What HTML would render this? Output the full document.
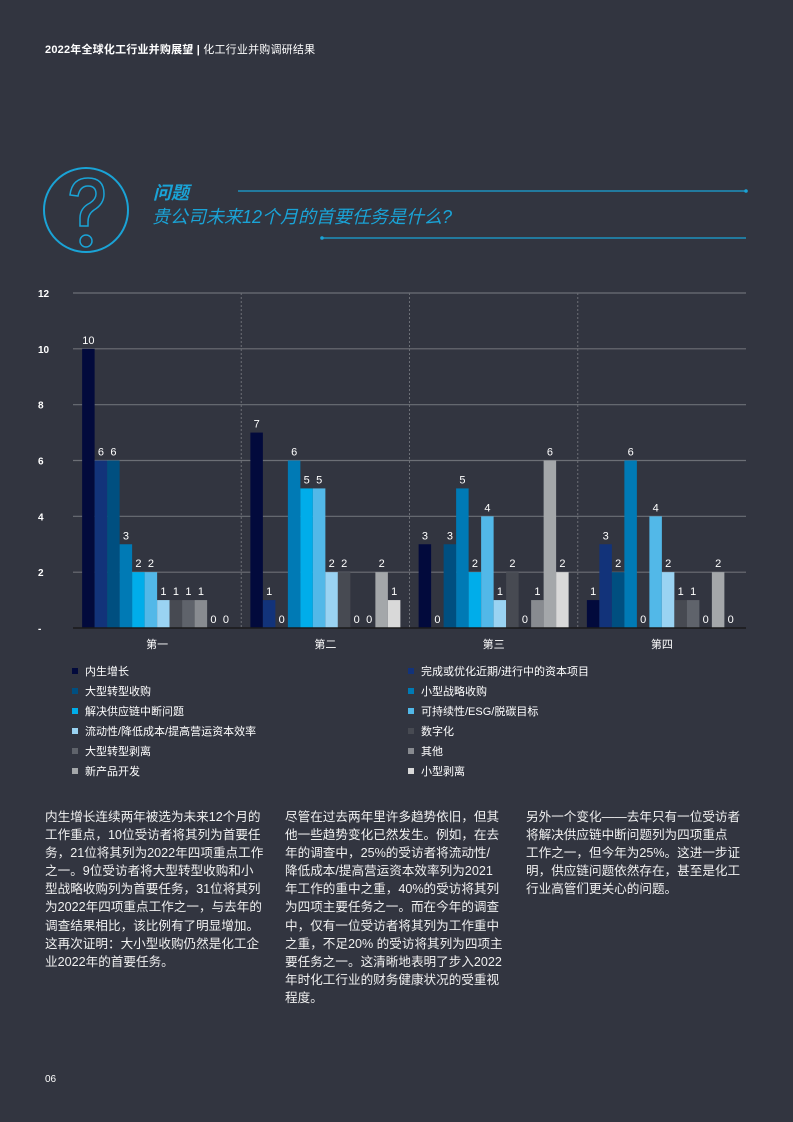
<!DOCTYPE html>
<html><head><meta charset="utf-8">
<style>
html,body{margin:0;padding:0}
body{width:793px;height:1122px;background:#323540;position:relative;overflow:hidden;font-family:"Liberation Sans","Noto Sans CJK SC",sans-serif;color:#fff}
.hdr{position:absolute;left:45px;top:41px;font-size:11px;font-weight:bold;letter-spacing:0.2px}
.hdr span{font-weight:normal}
.para{position:absolute;top:808px;font-size:12.6px;line-height:18.1px;color:#f0f0f0;white-space:nowrap}
.pn{position:absolute;left:45px;top:1074px;font-size:10px}
</style></head>
<body>
<div class="hdr">2022年全球化工行业并购展望 | <span>化工行业并购调研结果</span></div>

<svg width="793" height="270" style="position:absolute;left:0;top:160px">
 <circle cx="86" cy="50" r="42" fill="none" stroke="#1aa3d6" stroke-width="2"/>
 <path d="M70 35 Q72 18 88 18 Q104 18 104 34 Q104 44 94 50 Q88 54 88 62 L88 66 L80 66 L80 58 Q80 48 90 43 Q96 39 96 34 Q96 26 88 26 Q80 26 78 36 Z" fill="none" stroke="#1aa3d6" stroke-width="1.5"/>
 <circle cx="86" cy="81" r="6" fill="none" stroke="#1aa3d6" stroke-width="1.5"/>
 <text x="153" y="39" font-size="18" font-weight="bold" font-style="italic" fill="#1aa3d6" font-family="Liberation Sans,Noto Sans CJK SC,sans-serif">问题</text>
 <line x1="238" y1="31" x2="746" y2="31" stroke="#1aa3d6" stroke-width="1.2"/>
 <circle cx="746" cy="31" r="1.8" fill="#1aa3d6"/>
 <text x="152" y="63" font-size="18" font-style="italic" fill="#1aa3d6" font-family="Liberation Sans,Noto Sans CJK SC,sans-serif">贵公司未来12个月的首要任务是什么?</text>
 <line x1="322" y1="78" x2="746" y2="78" stroke="#1aa3d6" stroke-width="1.2"/>
 <circle cx="322" cy="78" r="1.8" fill="#1aa3d6"/>
</svg>

<svg id="chart" width="793" height="520" style="position:absolute;left:0;top:270px"></svg>

<div class="para" style="left:45px">内生增长连续两年被选为未来12个月的<br>工作重点，10位受访者将其列为首要任<br>务，21位将其列为2022年四项重点工作<br>之一。9位受访者将大型转型收购和小<br>型战略收购列为首要任务，31位将其列<br>为2022年四项重点工作之一，与去年的<br>调查结果相比，该比例有了明显增加。<br>这再次证明：大小型收购仍然是化工企<br>业2022年的首要任务。</div>
<div class="para" style="left:285px">尽管在过去两年里许多趋势依旧，但其<br>他一些趋势变化已然发生。例如，在去<br>年的调查中，25%的受访者将流动性/<br>降低成本/提高营运资本效率列为2021<br>年工作的重中之重，40%的受访将其列<br>为四项主要任务之一。而在今年的调查<br>中，仅有一位受访者将其列为工作重中<br>之重，不足20% 的受访将其列为四项主<br>要任务之一。这清晰地表明了步入2022<br>年时化工行业的财务健康状况的受重视<br>程度。</div>
<div class="para" style="left:526px">另外一个变化——去年只有一位受访者<br>将解决供应链中断问题列为四项重点<br>工作之一，但今年为25%。这进一步证<br>明，供应链问题依然存在，甚至是化工<br>行业高管们更关心的问题。</div>
<div class="pn">06</div>

<script>
const groups = ["第一","第二","第三","第四"];
const seriesNames = ["内生增长","完成或优化近期/进行中的资本项目","大型转型收购","小型战略收购","解决供应链中断问题","可持续性/ESG/脱碳目标","流动性/降低成本/提高营运资本效率","数字化","大型转型剥离","其他","新产品开发","小型剥离"];
const seriesColors = ["#020a3c","#12337a","#004f80","#007ab5","#00adea","#52b8e8","#9ad3f2","#474a52","#5f636b","#888b90","#a4a7aa","#d9d9d9"];
const values = [
 [10,6,6,3,2,2,1,1,1,1,0,0],
 [7,1,0,6,5,5,2,2,0,0,2,1],
 [3,0,3,5,2,4,1,2,0,1,6,2],
 [1,3,2,6,0,4,2,1,1,0,2,0]
];
const yTicks = [0,2,4,6,8,10,12];
const yTickLabels = ["-","2","4","6","8","10","12"];

const NS="http://www.w3.org/2000/svg";
const svg=document.getElementById('chart');
const X0=73,X1=746,Y0=358,Ytop=23,YMAX=12;
const y=v=>Y0-(Y0-Ytop)*v/YMAX;
const gw=(X1-X0)/groups.length;
const gx=i=>X0+gw*i;
const bw=12.5, pad=(gw-bw*12)/2;
const bx=(g,s)=>gx(g)+pad+bw*s;
function mk(t,a){const e=document.createElementNS(NS,t);for(const k in a)e.setAttribute(k,a[k]);svg.appendChild(e);return e;}

yTicks.forEach((t,i)=>{
 if(t>0){const l=mk('line',{x1:X0,x2:X1,y1:y(t),y2:y(t),stroke:'#6c6f76','stroke-width':1.2});
 
 }
 const tx=mk('text',{x:38,y:y(t)+4,'font-size':10,'font-weight':'bold',fill:'#fff'});
 tx.textContent=yTickLabels[i];
 
 
});
for(let g=1;g<groups.length;g++){
 const l=mk('line',{x1:gx(g),x2:gx(g),y1:Ytop,y2:Y0,stroke:'#6c6f76','stroke-dasharray':'2,2'});
 
 
}
values.forEach((row,g)=>{
 row.forEach((v,s)=>{
  const r=mk('rect',{x:bx(g,s),y:y(v),width:bw,height:Y0-y(v),fill:seriesColors[s]});
  
  
  const t=mk('text',{x:bx(g,s)+bw/2,y:y(v)-5,'font-size':11,fill:'#fff','text-anchor':'middle'});
  t.textContent=v;
  
  
 });
 const gl=mk('text',{x:gx(g)+gw/2,y:Y0+20,'font-size':11,fill:'#fff','text-anchor':'middle'});
 gl.textContent=groups[g];
 
 
});
const ax=mk('line',{x1:X0,x2:X1,y1:Y0,y2:Y0,stroke:'#1a1a1a','stroke-width':1.5});



seriesNames.forEach((n,i)=>{
 const col=i%2, row=Math.floor(i/2);
 const lx=col?408:72, ly=401+row*20;
 const sq=mk('rect',{x:lx,y:ly-3,width:6,height:6,fill:seriesColors[i]});
 
 
 const t=mk('text',{x:lx+13,y:ly+4,'font-size':11,fill:'#fff'});
 t.textContent=n;
 
 
});
</script>
</body></html>
